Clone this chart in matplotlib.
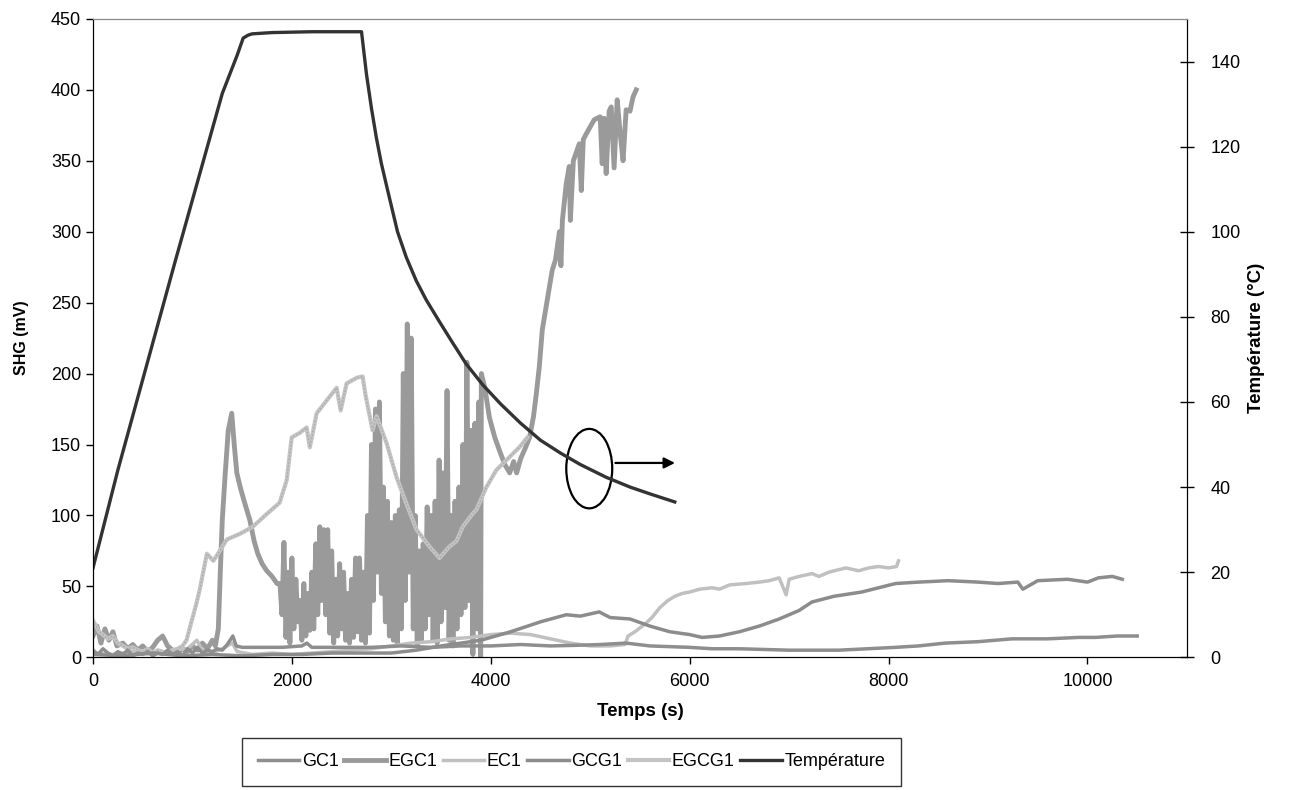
import matplotlib
matplotlib.use('Agg')
import matplotlib.pyplot as plt
from matplotlib.patches import Ellipse

plt.rcParams['font.family'] = ['Liberation Sans', 'DejaVu Sans']

# GC1 - low trace over the whole run
gc1_t = [0, 50, 100, 150, 200, 250, 300, 350, 400, 450, 500, 550, 600, 650, 700, 750, 800, 850, 900,
         950, 1000, 1050, 1100, 1150, 1200, 1250, 1300, 1350, 1406, 1440, 1500, 1700, 1900, 2100, 2150,
         2200, 2500, 2800, 3100, 3400, 3700, 4000, 4300, 4600, 4890, 5100, 5360, 5600, 6000, 6225, 6500,
         7000, 7230, 7500, 8070, 8300, 8570, 8900, 9240, 9600, 9910, 10080, 10300, 10500]
gc1_v = [5, 2, 6, 3, 1, 4, 2, 5, 1, 3, 2, 4, 1, 3, 2, 5, 2, 4, 1,
         6, 3, 7, 3, 5, 4, 6, 5, 9, 15, 8, 7, 7, 7, 8, 10,
         7, 7, 7, 8, 7, 8, 8, 9, 8, 8.5, 9, 10, 8, 7, 6, 6,
         5, 5, 5, 7, 8, 10, 11, 13, 13, 14, 14, 15, 15]

# EGC1 - start, peak at ~1400 and decay
egc1_a_t = [0, 40, 80, 120, 160, 200, 240, 300, 350, 400, 450, 500, 550, 600, 650, 700, 750, 800, 850,
            900, 950, 1000, 1050, 1100, 1150, 1200, 1230, 1260, 1280, 1300, 1330, 1360, 1395, 1420, 1446,
            1480, 1520, 1576, 1620, 1657, 1700, 1747, 1800, 1850]
egc1_a_v = [15, 22, 10, 20, 12, 18, 8, 10, 6, 9, 5, 8, 4, 7, 12, 15, 8, 5, 3,
            6, 4, 8, 5, 10, 6, 12, 8, 20, 60, 97, 130, 160, 172, 150, 130,
            120, 110, 97, 82, 73, 66, 61, 57, 52]
# EGC1 - noisy block, high / low readings every 40 s
egc1_b_t = [1880, 1920, 1960, 2000, 2040, 2080, 2120, 2160, 2200, 2240, 2280, 2320, 2360, 2400, 2440,
            2480, 2520, 2560, 2600, 2640, 2680, 2720, 2760, 2800, 2840, 2880, 2920, 2960, 3000, 3040,
            3080, 3120, 3160, 3200, 3240, 3280, 3320, 3360, 3400, 3440, 3480, 3520, 3560, 3600, 3640,
            3680, 3720, 3760, 3800, 3840]
egc1_b_hi = [52, 81, 60, 70, 55, 40, 52, 45, 60, 80, 92, 90, 90, 75, 55,
             66, 60, 45, 55, 70, 70, 60, 100, 150, 175, 180, 120, 110, 95, 100,
             104, 200, 235, 225, 100, 75, 80, 106, 100, 110, 139, 130, 188, 100, 110,
             120, 150, 208, 160, 165]
egc1_b_lo = [30, 14, 10, 20, 25, 12, 15, 19, 20, 30, 40, 30, 17, 10, 15,
             20, 12, 10, 14, 18, 12, 10, 17, 40, 60, 45, 25, 15, 12, 10,
             20, 40, 60, 20, 8, 12, 20, 30, 12, 10, 25, 35, 12, 8, 20,
             30, 35, 40, 2, 20]
# EGC1 - drop at 3900 and rise to 400
egc1_c_t = [3880, 3895, 3898, 3905, 3940, 3986, 4040, 4086, 4140, 4190, 4230, 4260,
            4300, 4350, 4390, 4430, 4458, 4488, 4518, 4568, 4618, 4650, 4690, 4705, 4720, 4759, 4789,
            4800, 4830, 4890, 4910, 4930, 4960, 5040, 5100, 5120, 5140, 5160, 5190, 5211, 5240, 5271,
            5300, 5330, 5361, 5400, 5430, 5462]
egc1_c_v = [180, 60, 0, 200, 190, 169, 155, 146, 136, 130, 138, 130,
            140, 148, 155, 170, 186, 205, 231, 252, 273, 280, 300, 276, 308, 334, 346,
            308, 350, 362, 329, 365, 369, 379, 381, 348, 380, 341, 385, 388, 345, 393,
            370, 350, 386, 385, 395, 400]

# EC1
ec1_t = [0, 200, 400, 600, 800, 950, 1044, 1100, 1200, 1300, 1400, 1450, 1600, 1800, 2000, 2200,
         2400, 2600, 2800, 3000, 3200, 3400, 3600, 3800, 4000, 4200, 4400, 4600, 4800, 5000, 5200,
         5350, 5380, 5450, 5560, 5620, 5700, 5780, 5850, 5925, 6000, 6100, 6225, 6300, 6400, 6566,
         6700, 6800, 6900, 6970, 7000, 7100, 7230, 7300, 7400, 7570, 7700, 7800, 7900, 8000, 8080, 8100]
ec1_v = [3, 2, 4, 2, 5, 6, 12, 5, 3, 6, 10, 4, 2, 3, 2, 3,
         4, 5, 6, 8, 10, 11, 13, 14, 16, 17, 16, 13, 10, 8, 8,
         9, 15, 18, 24, 28, 35, 40, 43, 45, 46, 48, 49, 48, 51, 52,
         53, 54, 56, 44, 55, 57, 59, 57, 60, 63, 61, 63, 64, 63, 64, 68]

# GCG1
gcg1_t = [0, 300, 600, 900, 1200, 1500, 1800, 2100, 2400, 2700, 3000, 3250, 3500, 3700, 3900, 4200,
          4500, 4760, 4900, 5090, 5200, 5400, 5600, 5800, 6000, 6125, 6300, 6500, 6700, 6900, 7100,
          7230, 7450, 7730, 7900, 8070, 8300, 8600, 8900, 9100, 9300, 9350, 9500, 9800, 10000, 10110,
          10250, 10350]
gcg1_v = [2, 1, 3, 1, 2, 1, 2, 2, 3, 3, 3, 5, 8, 10, 12, 18,
          25, 30, 29, 32, 28, 27, 22, 18, 16, 14, 15, 18, 22, 27, 33,
          39, 43, 46, 49, 52, 53, 54, 53, 52, 53, 48, 54, 55, 53, 56,
          57, 55]

# EGCG1
egcg1_t = [0, 30, 60, 100, 150, 200, 250, 300, 350, 400, 450, 500, 550, 600, 650, 700, 750, 800, 850,
           900, 940, 990, 1040, 1074, 1145, 1210, 1275, 1345, 1476, 1606, 1747, 1877, 1948, 1998, 2075,
           2148, 2180, 2249, 2349, 2450, 2490, 2550, 2650, 2711, 2740, 2811, 2851, 2952, 3052, 3153,
           3253, 3384, 3484, 3584, 3655, 3718, 3815, 3855, 3956, 4056, 4157, 4287, 4368]
egcg1_v = [26, 22, 18, 16, 13, 15, 10, 8, 6, 7, 5, 4, 6, 3, 5, 4, 3, 5, 6,
           8, 12, 25, 38, 48, 73, 68, 75, 83, 87, 92, 101, 109, 125, 155, 158,
           162, 148, 172, 181, 190, 174, 193, 197, 198, 185, 160, 170, 151, 127, 108,
           90, 78, 70, 78, 82, 92, 101, 104, 120, 132, 139, 148, 155]

# Température (right axis)
temp_t = [0, 250, 820, 1300, 1450, 1510, 1560, 1600, 1800, 2200, 2600, 2700, 2720, 2750, 2800, 2850,
          2900, 2960, 3062, 3150, 3250, 3350, 3480, 3600, 3750, 3920, 4100, 4300, 4500, 4700, 4900,
          5160, 5400, 5600, 5850]
temp_v = [21, 44, 92.5, 132.5, 141.5, 145.5, 146.2, 146.5, 146.8, 147, 147, 147, 143, 137, 129, 122,
          116, 110, 100, 94, 88.5, 84, 79, 74.5, 69, 64, 59.5, 55, 51, 48, 45.3,
          42.3, 40, 38.4, 36.5]

# EGC1 trace: the noisy block alternates its high and low readings
egc1_t = list(egc1_a_t)
egc1_v = list(egc1_a_v)
for t, hi, lo in zip(egc1_b_t, egc1_b_hi, egc1_b_lo):
    egc1_t += [t, t + 20]
    egc1_v += [hi, lo]
egc1_t += egc1_c_t
egc1_v += egc1_c_v

fig = plt.figure(figsize=(12.9, 7.9), dpi=100)
ax1 = fig.add_axes([0.0721, 0.168, 0.848, 0.808])
ax2 = ax1.twinx()

l_egc1, = ax1.plot(egc1_t, egc1_v, color='#9a9a9a', lw=3.5, label='EGC1')
l_egcg1, = ax1.plot(egcg1_t, egcg1_v, color='#c4c4c4', lw=3, label='EGCG1')
ax1.plot(egcg1_t, egcg1_v, color='#a8a8a8', lw=1, linestyle=(0, (1, 1.5)))
l_ec1, = ax1.plot(ec1_t, ec1_v, color='#c0c0c0', lw=2.5, label='EC1')
l_gcg1, = ax1.plot(gcg1_t, gcg1_v, color='#8c8c8c', lw=2.5, label='GCG1')
l_gc1, = ax1.plot(gc1_t, gc1_v, color='#8e8e8e', lw=2.5, label='GC1')
l_temp, = ax2.plot(temp_t, temp_v, color='#333333', lw=2.4, label='Température')

ax1.set_xlim(0, 11000)
ax1.set_ylim(0, 450)
ax2.set_ylim(0, 150)
ax1.set_xticks(range(0, 10001, 2000))
ax1.set_yticks(range(0, 451, 50))
ax2.set_yticks(range(0, 141, 20))

ax1.tick_params(axis='both', direction='out', length=5, labelsize=13, width=1)
ax1.tick_params(axis='x', pad=6)
ax2.tick_params(axis='y', direction='inout', length=10, labelsize=13, width=1, pad=12)
ax1.spines['top'].set_color('#888888')
ax2.spines['top'].set_color('#888888')

ax1.set_xlabel('Temps (s)', fontsize=13.5, fontweight='bold', labelpad=10)
ax1.set_ylabel('SHG (mV)', fontsize=11.5, fontweight='bold', labelpad=16)
ax2.set_ylabel('Température (°C)', fontsize=13.5, fontweight='bold', labelpad=5)

# ellipse + arrow pointing at the temperature axis
ax1.add_patch(Ellipse((4990, 133), 462, 56, fill=False, edgecolor='black', lw=1.6, zorder=5))
ax1.annotate('', xy=(5880, 137), xytext=(5225, 137),
             arrowprops=dict(arrowstyle='-|>', color='black', lw=1.6, mutation_scale=16), zorder=5)

handles = [l_gc1, l_egc1, l_ec1, l_gcg1, l_egcg1, l_temp]
leg = fig.legend(handles, [h.get_label() for h in handles], loc='upper center',
                 bbox_to_anchor=(0.443, 0.066), ncol=6, fontsize=13, frameon=True, fancybox=False,
                 edgecolor='black', handlelength=2.3, handletextpad=0.15, columnspacing=0.3,
                 borderpad=0.85, borderaxespad=0)
leg.get_frame().set_linewidth(1)

fig.savefig('out.png', dpi=100)
